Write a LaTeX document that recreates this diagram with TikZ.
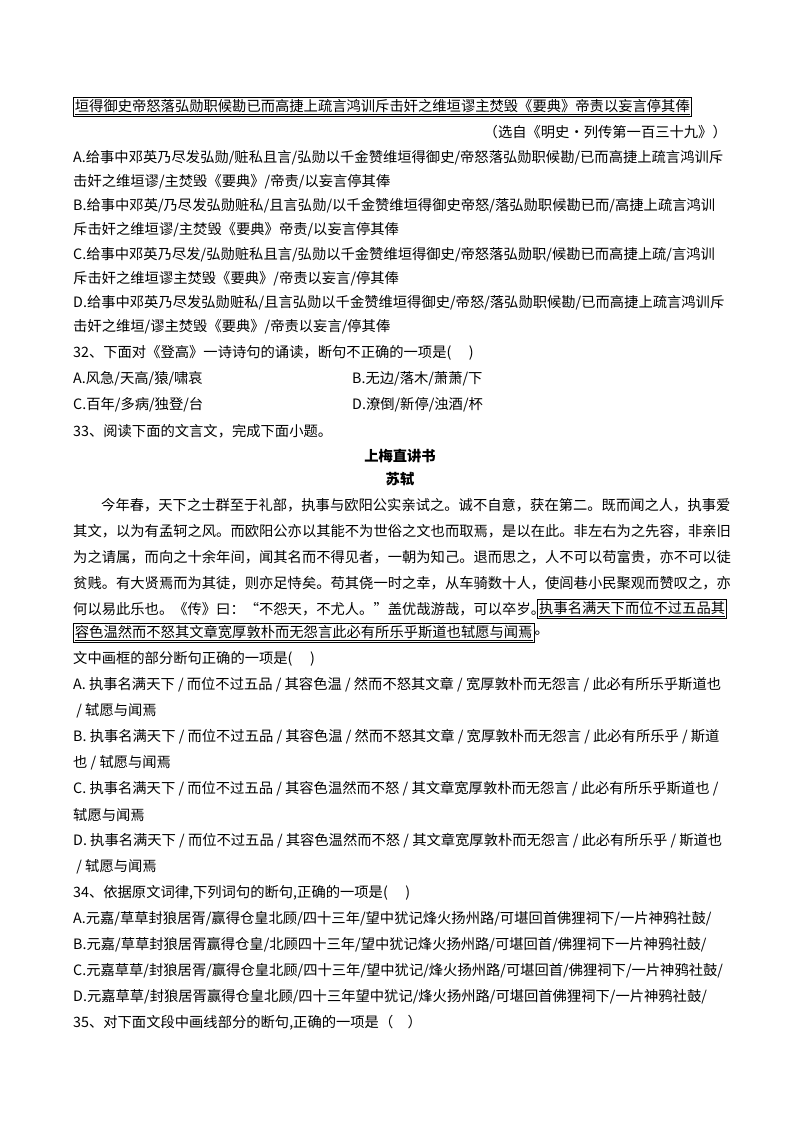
\documentclass[tikz,border=0pt]{standalone}
\usepackage{fontspec}
\setmainfont{Noto Sans CJK SC}
\begin{document}
\begin{tikzpicture}[x=1pt,y=-1pt,
  t/.style={anchor=west,inner sep=0pt,font=\fontsize{14.3}{14.3}\selectfont},
  tr/.style={anchor=east,inner sep=0pt,font=\fontsize{14.3}{14.3}\selectfont},
  ttl/.style={anchor=center,inner sep=0pt,font=\fontsize{14.3}{14.3}\selectfont\bfseries},
  bx/.style={draw,line width=0.8pt,inner sep=1.5pt}]
\fill[white] (0,0) rectangle (800,1132);
\useasboundingbox (0,0) rectangle (800,1132);
\node[t,bx] (l0) at (73,107) {\underline{垣得御史帝怒落弘勋职候勘已而高捷上疏言鸿训斥击奸之维垣谬主焚毁《要典》帝责以妄言停其俸}};
\node[tr] (l1) at (727,132) {（选自《明史•列传第一百三十九》）};
\node[t] (a1) at (73,158) {A.给事中邓英乃尽发弘勋/赃私且言/弘勋以千金赞维垣得御史/帝怒落弘勋职候勘/已而高捷上疏言鸿训斥};
\node[t] (a2) at (73,182) {击奸之维垣谬/主焚毁《要典》/帝责/以妄言停其俸};
\node[t] (b1) at (73,206) {B.给事中邓英/乃尽发弘勋赃私/且言弘勋/以千金赞维垣得御史帝怒/落弘勋职候勘已而/高捷上疏言鸿训};
\node[t] (b2) at (73,230) {斥击奸之维垣谬/主焚毁《要典》帝责/以妄言停其俸};
\node[t] (c1) at (73,255) {C.给事中邓英乃尽发/弘勋赃私且言/弘勋以千金赞维垣得御史/帝怒落弘勋职/候勘已而高捷上疏/言鸿训};
\node[t] (c2) at (73,279) {斥击奸之维垣谬主焚毁《要典》/帝责以妄言/停其俸};
\node[t] (d1) at (73,303) {D.给事中邓英乃尽发弘勋赃私/且言弘勋以千金赞维垣得御史/帝怒/落弘勋职候勘/已而高捷上疏言鸿训斥};
\node[t] (d2) at (73,327) {击奸之维垣/谬主焚毁《要典》/帝责以妄言/停其俸};
\node[t] (q32) at (73,353) {32、下面对《登高》一诗诗句的诵读，断句不正确的一项是(\quad\ )};
\node[t] (q32a) at (73,379) {A.风急/天高/猿/啸哀};
\node[t] (q32b) at (352,379) {B.无边/落木/萧萧/下};
\node[t] (q32c) at (73,405) {C.百年/多病/独登/台};
\node[t] (q32d) at (352,405) {D.潦倒/新停/浊酒/杯};
\node[t] (q33) at (73,431) {33、阅读下面的文言文，完成下面小题。};
\node[ttl] (title) at (400,456) {上梅直讲书};
\node[ttl] (author) at (400,479) {苏轼};
\node[t] (p1) at (73,505) {\hspace{28pt}今年春，天下之士群至于礼部，执事与欧阳公实亲试之。诚不自意，获在第二。既而闻之人，执事爱};
\node[t] (p2) at (73,531) {其文，以为有孟轲之风。而欧阳公亦以其能不为世俗之文也而取焉，是以在此。非左右为之先容，非亲旧};
\node[t] (p3) at (73,557) {为之请属，而向之十余年间，闻其名而不得见者，一朝为知己。退而思之，人不可以苟富贵，亦不可以徒};
\node[t] (p4) at (73,583) {贫贱。有大贤焉而为其徒，则亦足恃矣。苟其侥一时之幸，从车骑数十人，使闾巷小民聚观而赞叹之，亦};
\node[t] (p5) at (73,609) {何以易此乐也。《传》曰：“不怨天，不尤人。”盖优哉游哉，可以卒岁。};
\node[tr,bx] (p5b) at (727,609) {\underline{执事名满天下而位不过五品其}};
\node[t,bx] (p6) at (73,633) {\underline{容色温然而不怒其文章宽厚敦朴而无怨言此必有所乐乎斯道也轼愿与闻焉}};
\node[t] (p6e) at (p6.east) {。};
\node[t] (q) at (73,659) {文中画框的部分断句正确的一项是(\quad\ )};
\node[t] (qa1) at (73,685) {A. 执事名满天下 / 而位不过五品 / 其容色温 / 然而不怒其文章 / 宽厚敦朴而无怨言 / 此必有所乐乎斯道也};
\node[t] (qa2) at (73,711) {\ / 轼愿与闻焉};
\node[t] (qb1) at (73,737) {B. 执事名满天下 / 而位不过五品 / 其容色温 / 然而不怒其文章 / 宽厚敦朴而无怨言 / 此必有所乐乎 / 斯道};
\node[t] (qb2) at (73,763) {也 / 轼愿与闻焉};
\node[t] (qc1) at (73,789) {C. 执事名满天下 / 而位不过五品 / 其容色温然而不怒 / 其文章宽厚敦朴而无怨言 / 此必有所乐乎斯道也 /};
\node[t] (qc2) at (73,815) {轼愿与闻焉};
\node[t] (qd1) at (73,841) {D. 执事名满天下 / 而位不过五品 / 其容色温然而不怒 / 其文章宽厚敦朴而无怨言 / 此必有所乐乎 / 斯道也};
\node[t] (qd2) at (73,867) {\ / 轼愿与闻焉};
\node[t] (q34) at (73,893) {34、依据原文词律,下列词句的断句,正确的一项是(\quad\ )};
\node[t] (q34a) at (73,919) {A.元嘉/草草封狼居胥/赢得仓皇北顾/四十三年/望中犹记烽火扬州路/可堪回首佛狸祠下/一片神鸦社鼓/};
\node[t] (q34b) at (73,945) {B.元嘉/草草封狼居胥赢得仓皇/北顾四十三年/望中犹记烽火扬州路/可堪回首/佛狸祠下一片神鸦社鼓/};
\node[t] (q34c) at (73,971) {C.元嘉草草/封狼居胥/赢得仓皇北顾/四十三年/望中犹记/烽火扬州路/可堪回首/佛狸祠下/一片神鸦社鼓/};
\node[t] (q34d) at (73,997) {D.元嘉草草/封狼居胥赢得仓皇北顾/四十三年望中犹记/烽火扬州路/可堪回首佛狸祠下/一片神鸦社鼓/};
\node[t] (q35) at (73,1023) {35、对下面文段中画线部分的断句,正确的一项是（\quad ）};
\end{tikzpicture}
\end{document}
